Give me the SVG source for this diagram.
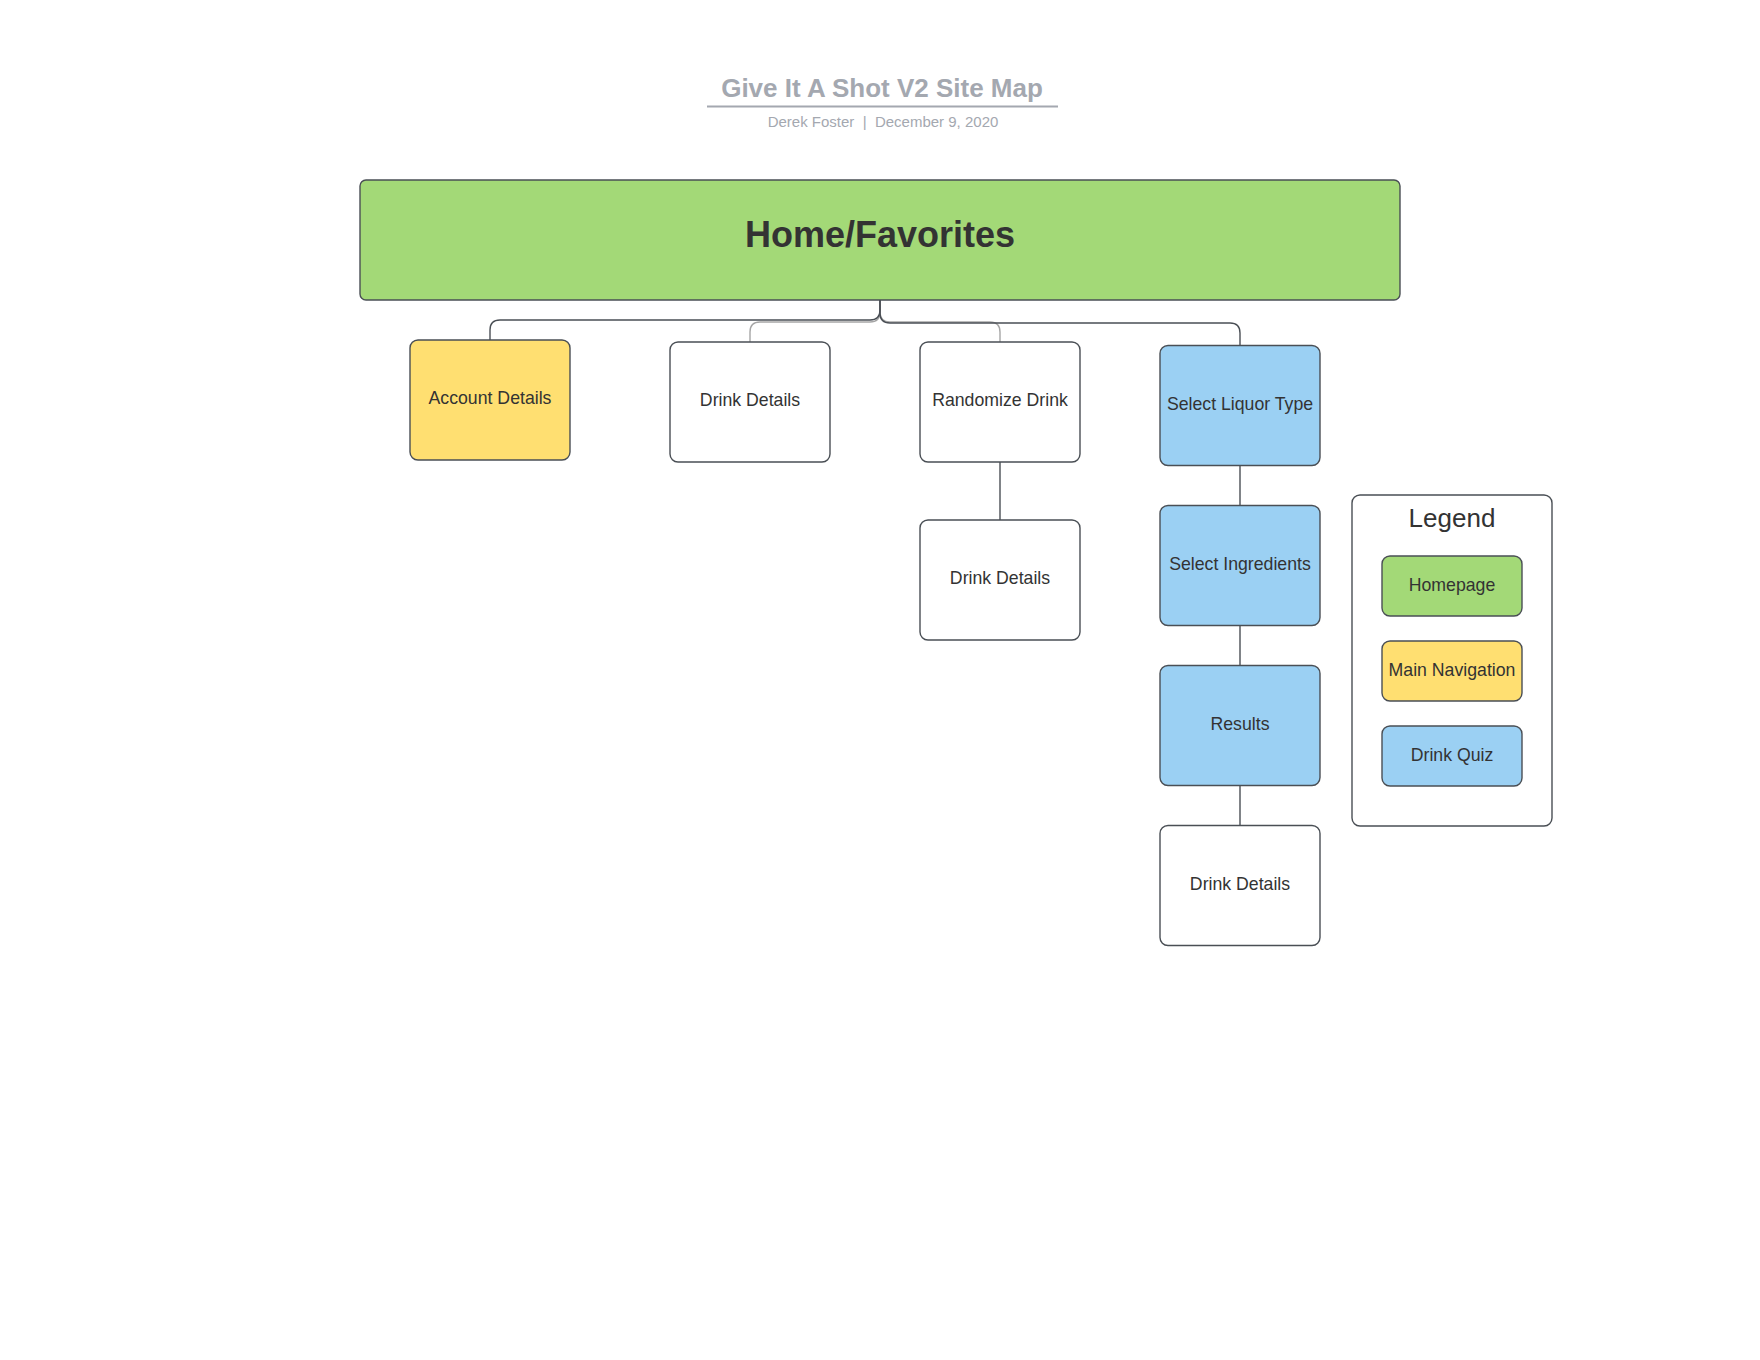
<svg xmlns="http://www.w3.org/2000/svg" width="1760" height="1360" viewBox="0 0 1760 1360">
  <style>
    .t { font-family: "Liberation Sans", Arial, sans-serif; fill: #333333; text-anchor: middle; }
    .n { font-size: 17.7px; }
    .box { stroke: #4a4f55; stroke-width: 1.4; }
    .white { fill: #ffffff; }
    .yellow { fill: #ffdf71; }
    .blue { fill: #9bd0f3; }
    .green { fill: #a3d977; }
    .conn { fill: none; stroke: #4a4f55; stroke-width: 1.4; }
    .connl { fill: none; stroke: #a6a6a6; stroke-width: 1.4; }
    .hdr { font-family: "Liberation Sans", Arial, sans-serif; fill: #a4a8b0; text-anchor: middle; }
  </style>
  <rect x="0" y="0" width="1760" height="1360" fill="#ffffff"/>

  <g id="title">
    <text class="hdr" x="882" y="97" font-size="26" font-weight="bold">Give It A Shot V2 Site Map</text>
    <line x1="707" y1="106.5" x2="1058" y2="106.5" stroke="#a4a8b0" stroke-width="2"/>
    <text class="hdr" x="883" y="127" font-size="15" xml:space="preserve" style="white-space:pre">Derek Foster  |  December 9, 2020</text>
  </g>

  <g id="connectors">
    <path class="connl" d="M880,300 V312 Q880,322 870,322 H760 Q750,322 750,332 V342"/>
    <path class="connl" d="M880,300 V312 Q880,322 890,322 H990 Q1000,322 1000,332 V342"/>
    <path class="conn" d="M880,300 V310 Q880,320 870,320 H500 Q490,320 490,330 V340"/>
    <path class="conn" d="M880,300 V313 Q880,323 890,323 H1230 Q1240,323 1240,333 V345.5"/>
    <path class="conn" d="M1000,462 V520"/>
    <path class="conn" d="M1240,465.5 V505.5"/>
    <path class="conn" d="M1240,625.5 V665.5"/>
    <path class="conn" d="M1240,785.5 V825.5"/>
  </g>

  <g id="home">
    <rect class="box green" x="360" y="180" width="1040" height="120" rx="6"/>
    <text class="t" x="880" y="247" font-size="36" font-weight="bold">Home/Favorites</text>
  </g>

  <g id="account-details">
    <rect class="box yellow" x="410" y="340" width="160" height="120" rx="8"/>
    <text class="t n" x="490" y="404">Account Details</text>
  </g>

  <g id="drink-details-1">
    <rect class="box white" x="670" y="342" width="160" height="120" rx="8"/>
    <text class="t n" x="750" y="406">Drink Details</text>
  </g>

  <g id="randomize-drink">
    <rect class="box white" x="920" y="342" width="160" height="120" rx="8"/>
    <text class="t n" x="1000" y="406">Randomize Drink</text>
  </g>

  <g id="drink-details-2">
    <rect class="box white" x="920" y="520" width="160" height="120" rx="8"/>
    <text class="t n" x="1000" y="584">Drink Details</text>
  </g>

  <g id="select-liquor-type">
    <rect class="box blue" x="1160" y="345.5" width="160" height="120" rx="8"/>
    <text class="t n" x="1240" y="409.5">Select Liquor Type</text>
  </g>

  <g id="select-ingredients">
    <rect class="box blue" x="1160" y="505.5" width="160" height="120" rx="8"/>
    <text class="t n" x="1240" y="569.5">Select Ingredients</text>
  </g>

  <g id="results">
    <rect class="box blue" x="1160" y="665.5" width="160" height="120" rx="8"/>
    <text class="t n" x="1240" y="729.5">Results</text>
  </g>

  <g id="drink-details-3">
    <rect class="box white" x="1160" y="825.5" width="160" height="120" rx="8"/>
    <text class="t n" x="1240" y="889.5">Drink Details</text>
  </g>

  <g id="legend">
    <rect class="box white" x="1352" y="495" width="200" height="331" rx="8"/>
    <text class="t" x="1452" y="527" font-size="26">Legend</text>
    <g id="legend-homepage">
      <rect class="box green" x="1382" y="556" width="140" height="60" rx="8"/>
      <text class="t n" x="1452" y="591">Homepage</text>
    </g>
    <g id="legend-main-navigation">
      <rect class="box yellow" x="1382" y="641" width="140" height="60" rx="8"/>
      <text class="t n" x="1452" y="676">Main Navigation</text>
    </g>
    <g id="legend-drink-quiz">
      <rect class="box blue" x="1382" y="726" width="140" height="60" rx="8"/>
      <text class="t n" x="1452" y="761">Drink Quiz</text>
    </g>
  </g>
</svg>
